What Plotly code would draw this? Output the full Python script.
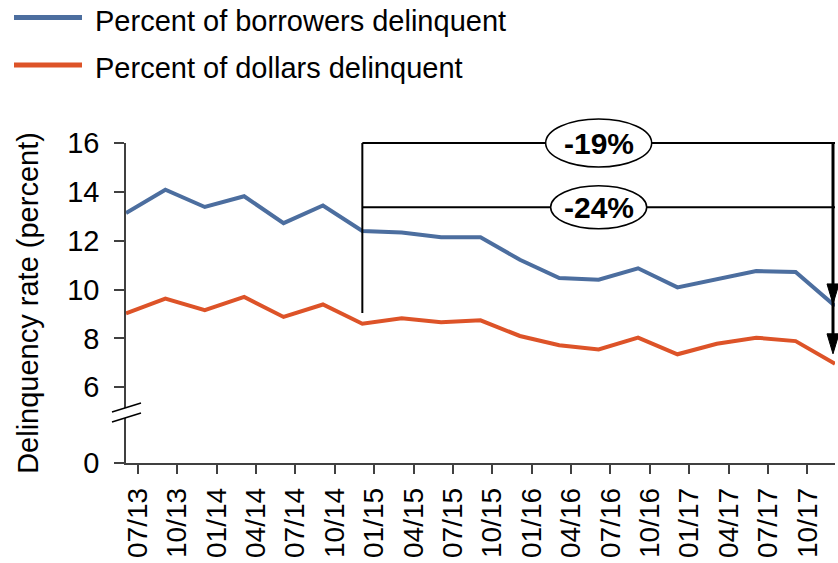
import numpy as np
import plotly.graph_objects as go

# ---- data ----
quarter_labels = ["07/13", "10/13", "01/14", "04/14", "07/14", "10/14", "01/15", "04/15", "07/15",
                  "10/15", "01/16", "04/16", "07/16", "10/16", "01/17", "04/17", "07/17", "10/17"]
borrowers_pct = [13.13, 14.09, 13.38, 13.82, 12.72, 13.44, 12.40, 12.34, 12.14, 12.14,
                 11.22, 10.47, 10.40, 10.87, 10.09, 10.43, 10.76, 10.72, 9.33]
dollars_pct = [9.03, 9.63, 9.16, 9.70, 8.88, 9.39, 8.60, 8.83, 8.66, 8.74,
               8.10, 7.72, 7.55, 8.03, 7.35, 7.78, 8.03, 7.89, 6.96]
ytick_vals = [2.9, 6, 8, 10, 12, 14, 16]
ytick_text = ["0", "6", "8", "10", "12", "14", "16"]
change_labels = ["-19%", "-24%"]
series_names = ["Percent of borrowers delinquent", "Percent of dollars delinquent"]

BLUE = "#4C6E9F"
ORANGE = "#DD5328"
AXIS = "#404040"
FONT = "Liberation Sans, Arial, sans-serif"

W, H = 838, 563
L, R, T, B = 126, 3, 143, 100
PW, PH = W - L - R, H - T - B

x_pts = np.arange(len(borrowers_pct))
tick_pos = np.arange(len(quarter_labels)) + 0.3
X_RANGE = [0, len(borrowers_pct) - 1]
Y_RANGE = [ytick_vals[0], 16]


def px_x(px):
    return (px - L) / PW


def px_y(py):
    return (T + PH - py) / PH


def dx(v):  # data x -> paper
    return (v - X_RANGE[0]) / (X_RANGE[1] - X_RANGE[0])


def dy(v):  # data y -> paper
    return (v - Y_RANGE[0]) / (Y_RANGE[1] - Y_RANGE[0])


fig = go.Figure()
fig.add_trace(go.Scatter(x=x_pts, y=borrowers_pct, mode="lines", name=series_names[0],
                         line=dict(color=BLUE, width=4), showlegend=False))
fig.add_trace(go.Scatter(x=x_pts, y=dollars_pct, mode="lines", name=series_names[1],
                         line=dict(color=ORANGE, width=4), showlegend=False))

shapes = []
start_i, end_i = 6, len(borrowers_pct) - 1
top_y = 16
mid_y = 13.37
left_bottom = 9.04
P = dict(xref="paper", yref="paper")
# bracket lines
shapes.append(dict(type="line", **P, x0=dx(start_i), x1=dx(start_i), y0=dy(top_y), y1=dy(left_bottom),
                   line=dict(color="black", width=2)))
shapes.append(dict(type="line", **P, x0=dx(start_i), x1=dx(end_i), y0=dy(top_y), y1=dy(top_y),
                   line=dict(color="black", width=2)))
shapes.append(dict(type="line", **P, x0=dx(start_i), x1=dx(end_i), y0=dy(mid_y), y1=dy(mid_y),
                   line=dict(color="black", width=2)))
# right vertical arrow line
shapes.append(dict(type="line", **P, xsizemode="pixel", xanchor=dx(end_i), x0=-2, x1=-2,
                   y0=dy(top_y), y1=dy(dollars_pct[-1] + 0.6), line=dict(color="black", width=3)))
# arrowheads
for val, off in [(borrowers_pct[-1], 2), (dollars_pct[-1], 10)]:
    shapes.append(dict(type="path", **P, xsizemode="pixel", ysizemode="pixel",
                       xanchor=dx(end_i), yanchor=dy(val),
                       path=f"M -8,{off + 20} L 4,{off + 20} L -2,{off} Z",
                       fillcolor="black", line=dict(color="black", width=1)))
# ellipses
mid_x = (start_i + end_i) / 2
for yc, hw, hh in [(top_y, 53, 24), (mid_y, 48, 21.5)]:
    shapes.append(dict(type="circle", **P, xsizemode="pixel", ysizemode="pixel",
                       xanchor=dx(mid_x), yanchor=dy(yc), x0=-hw, x1=hw, y0=-hh, y1=hh,
                       fillcolor="white", line=dict(color="black", width=1.5)))
# axis break marks
shapes.append(dict(type="path", **P,
                   path=f"M {px_x(112)},{px_y(412)} L {px_x(141)},{px_y(403)} L {px_x(141)},{px_y(413)} L {px_x(112)},{px_y(422)} Z",
                   fillcolor="white", line=dict(width=0)))
for y_a, y_b in [(412, 403), (422, 413)]:
    shapes.append(dict(type="line", **P,
                       x0=px_x(112), y0=px_y(y_a), x1=px_x(141), y1=px_y(y_b),
                       line=dict(color="black", width=1.5)))
# manual legend
annotations = []
for name, col, ly in [(series_names[0], BLUE, 17.5), (series_names[1], ORANGE, 65)]:
    shapes.append(dict(type="line", **P, x0=px_x(14), x1=px_x(82),
                       y0=px_y(ly), y1=px_y(ly), line=dict(color=col, width=5)))
    annotations.append(dict(**P, x=px_x(93), y=px_y(ly + 3), text=name,
                            showarrow=False, xanchor="left", yanchor="middle",
                            font=dict(family=FONT, size=29, color="black")))

for lab, yc in zip(change_labels, [top_y, mid_y]):
    annotations.append(dict(xref="x", yref="y", x=mid_x, y=yc, text=f"<b>{lab}</b>", showarrow=False,
                            xanchor="center", yanchor="middle",
                            font=dict(family=FONT, size=30, color="black")))

fig.update_layout(
    width=W, height=H,
    margin=dict(l=L, r=R, t=T, b=B, pad=0, autoexpand=False),
    paper_bgcolor="white", plot_bgcolor="white",
    font=dict(family=FONT, size=29, color="black"),
    shapes=shapes, annotations=annotations,
    xaxis=dict(range=X_RANGE, tickvals=tick_pos, ticktext=quarter_labels, tickangle=-90,
               automargin=False,
               showgrid=False, zeroline=False, showline=True, linecolor=AXIS, linewidth=1.5,
               ticks="outside", ticklen=9, tickwidth=1.5, tickcolor=AXIS,
               tickfont=dict(family=FONT, size=28, color="black"), ticklabelstandoff=3),
    yaxis=dict(range=Y_RANGE, tickvals=ytick_vals, ticktext=ytick_text,
               automargin=False,
               showgrid=False, zeroline=False, showline=True, linecolor=AXIS, linewidth=1.5,
               ticks="outside", ticklen=10, tickwidth=1.5, tickcolor=AXIS,
               tickfont=dict(family=FONT, size=29, color="black"), ticklabelstandoff=9,
               title=dict(text="Delinquency rate (percent)", font=dict(family=FONT, size=29, color="black"),
                          standoff=20)),
)

fig.write_html("out.html", config={"displayModeBar": False},
               post_script="document.body.style.margin='0';document.body.style.overflow='hidden';"
                           "document.documentElement.style.overflow='hidden';")
